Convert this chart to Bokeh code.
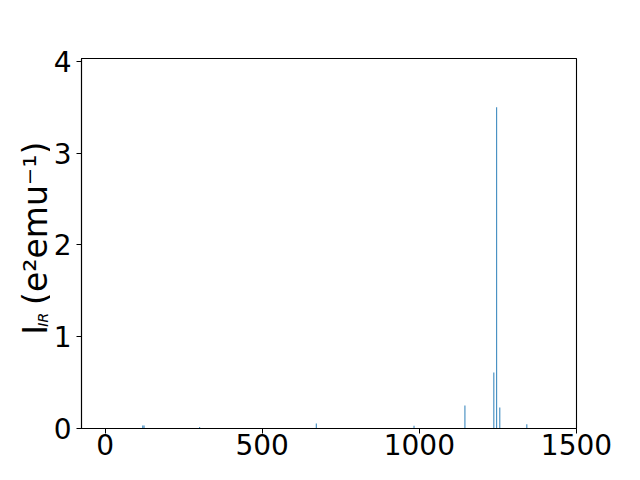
import math
from bokeh.plotting import figure
from bokeh.models import Range1d, FixedTicker, ColumnDataSource
from bokeh.layouts import row, column
from bokeh.core.properties import value
from bokeh.embed import file_html
from bokeh.resources import INLINE

# IR spectrum data (frequency in cm^-1, intensity in e^2 emu^-1)
freqs = [120, 124, 301, 672, 983, 1145, 1237, 1246, 1256, 1342]
intens = [0.033, 0.033, 0.015, 0.054, 0.03, 0.25, 0.61, 3.50, 0.23, 0.045]
x_ticks = [0, 500, 1000, 1500]
y_ticks = [0, 1, 2, 3, 4]
x_label = "Frequency (cm⁻¹)"
y_label_parts = ["I", "IR", "(e²emu⁻¹)"]

FONT = "DejaVu Sans"
W, H_TOTAL = 624, 472
LEFT_W = 50          # width of the strip that holds the y label
H_MAIN = 458         # height of the main chart row

# ---------------- main chart ----------------
p = figure(width=W - LEFT_W, height=H_MAIN, output_backend="svg", toolbar_location=None,
           x_range=Range1d(-75, 1500), y_range=Range1d(0, 4.03),
           min_border_left=80 - LEFT_W, min_border_right=48, min_border_top=58,
           min_border_bottom=H_MAIN - 428)

src = ColumnDataSource(dict(x=freqs, top=intens))
p.vbar(x="x", top="top", bottom=0, width=3, source=src, fill_color="#1f77b4", line_color=None)

p.xgrid.visible = False
p.ygrid.visible = False
p.outline_line_color = "black"
p.outline_line_width = 1.1
p.background_fill_color = "white"
p.border_fill_color = "white"

for ax, ticks in ((p.xaxis, x_ticks), (p.yaxis, y_ticks)):
    ax.ticker = FixedTicker(ticks=ticks)
    ax.minor_tick_line_color = None
    ax.major_tick_in = 0
    ax.major_tick_out = 5
    ax.major_tick_line_color = "black"
    ax.axis_line_color = "black"
    ax.axis_line_width = 1.1
    ax.major_label_text_font = FONT
    ax.major_label_text_font_size = "28px"
    ax.major_label_text_color = "black"
p.xaxis.major_label_standoff = 0
p.yaxis.major_label_standoff = 5

# ---------------- label strips (pixel coordinates, y downward) ----------------
def strip(width, height, y_top):
    f = figure(width=width, height=height, output_backend="svg", toolbar_location=None,
               x_range=Range1d(0, width), y_range=Range1d(y_top + height, y_top),
               x_axis_type=None, y_axis_type=None, min_border=0)
    f.grid.visible = False
    f.outline_line_color = None
    f.background_fill_color = "white"
    f.border_fill_color = "white"
    return f

yl = strip(LEFT_W, H_MAIN, 0)
yl.text(x=[35], y=[342], text=[y_label_parts[0]], angle=math.pi / 2,
        text_font=value(FONT), text_font_size=value("33px"),
        text_align="left", text_baseline="alphabetic", text_color="black")
yl.text(x=[42], y=[332], text=[y_label_parts[1]], angle=math.pi / 2,
        text_font=value(FONT), text_font_size=value("14px"), text_font_style="italic",
        text_align="left", text_baseline="alphabetic", text_color="black")
yl.text(x=[35], y=[305], text=[y_label_parts[2]], angle=math.pi / 2,
        text_font=value(FONT), text_font_size=value("33px"),
        text_align="left", text_baseline="alphabetic", text_color="black")

# x label strip: the label runs off the bottom edge, as in the reference
xl = strip(W, H_TOTAL - H_MAIN, H_MAIN)
xl.text(x=[332], y=[H_MAIN + 7], text=[x_label], y_offset=22,
        text_font=value(FONT), text_font_size=value("33px"),
        text_align="center", text_baseline="alphabetic", text_color="black")

layout = column(row(yl, p, spacing=0), xl, spacing=0)
open("out.html", "w").write(file_html(layout, INLINE))
